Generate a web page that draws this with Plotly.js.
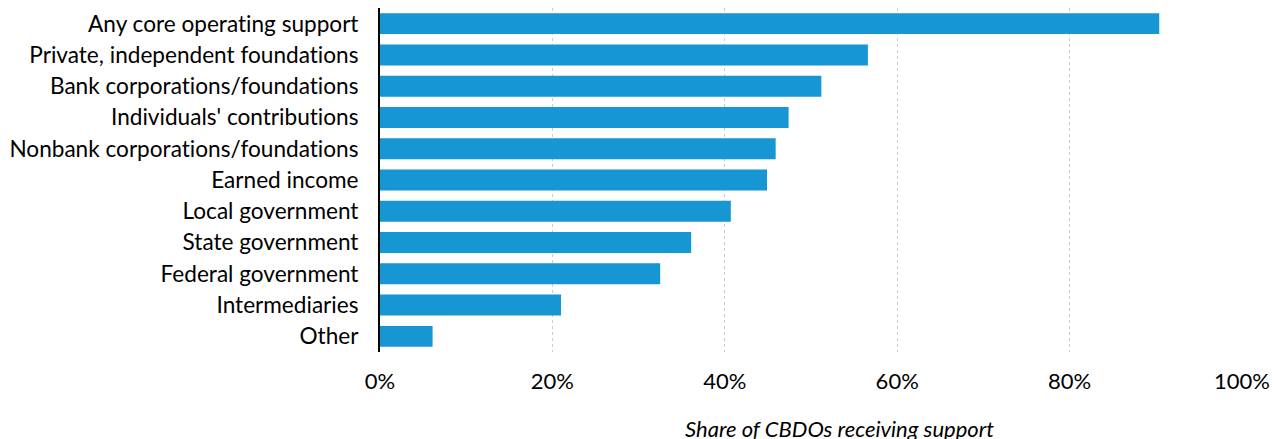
<!DOCTYPE html>
<html>
<head>
<meta charset="utf-8">
<script src="https://cdn.plot.ly/plotly-3.0.1.min.js"></script>
<style>html,body{margin:0;padding:0;background:#fff;}#chart{width:1275px;height:439px;}svg text{font-variant-ligatures:none;font-feature-settings:"liga" 0;}</style>
</head>
<body>
<div id="chart"></div>
<script>
const categories = [
  "Any core operating support",
  "Private, independent foundations",
  "Bank corporations/foundations",
  "Individuals' contributions",
  "Nonbank corporations/foundations",
  "Earned income",
  "Local government",
  "State government",
  "Federal government",
  "Intermediaries",
  "Other"
];
const shares = [0.904, 0.566, 0.512, 0.474, 0.459, 0.449, 0.407, 0.361, 0.325, 0.210, 0.061];
const tickValues = [0, 0.2, 0.4, 0.6, 0.8, 1.0];
const tickLabels = ["0%", "20%", "40%", "60%", "80%", "100%"];
const xTitle = "Share of CBDOs receiving support";

const trace = {
  type: "bar",
  orientation: "h",
  x: shares,
  y: categories,
  marker: {color: "#1696d2"},
  hoverinfo: "x+y"
};

const layout = {
  width: 1275,
  height: 439,
  margin: {l: 380, r: 33, t: 8, b: 87},
  paper_bgcolor: "#ffffff",
  plot_bgcolor: "#ffffff",
  font: {family: "Lato, 'Open Sans', sans-serif", size: 22, color: "#000000"},
  bargap: 0.33,
  showlegend: false,
  xaxis: {
    range: [0, 1.0],
    tickvals: tickValues,
    ticktext: tickLabels,
    showgrid: true,
    gridcolor: "#cccccc",
    griddash: "dot",
    gridwidth: 1,
    zeroline: false,
    showline: false,
    ticks: "",
    ticklabelstandoff: 14,
    tickfont: {size: 22},
    automargin: false,
    fixedrange: true
  },
  yaxis: {
    categoryorder: "array",
    categoryarray: categories.slice().reverse(),
    autorange: false,
    range: [-0.5, categories.length - 0.5],
    showline: true,
    linecolor: "#000000",
    linewidth: 2,
    showgrid: false,
    zeroline: false,
    ticks: "",
    ticklabelstandoff: 15,
    tickfont: {size: 22.6},
    automargin: false,
    fixedrange: true
  },
  annotations: [{
    text: "<i>" + xTitle + "</i>",
    xref: "paper", yref: "paper",
    x: 0.5336, y: 0,
    xanchor: "center", yanchor: "middle",
    yshift: -76,
    showarrow: false,
    font: {size: 22, color: "#000000"}
  }]
};

Plotly.newPlot("chart", [trace], layout, {displayModeBar: false, staticPlot: true});
</script>
</body>
</html>
